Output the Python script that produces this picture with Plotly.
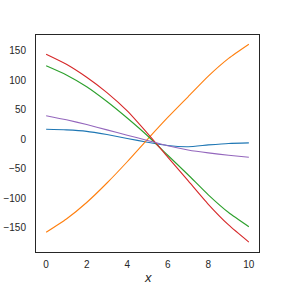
import plotly.graph_objects as go

x = [0, 1, 2, 3, 4, 5, 6, 7, 8, 9, 10]
blue = [17, 16, 13.5, 8, 1.5, -5, -10.5, -12.5, -9.5, -7, -6]
orange = [-157.5, -135, -107, -74, -38, 0, 37, 72, 107, 137, 161]
green = [124.5, 109, 89, 64, 36, 6, -27, -60, -94, -124, -148]
red = [144, 127, 105, 79, 48, 10, -30, -70, -110, -145, -174]
purple = [40, 33, 25, 16, 7, -2, -11, -18, -23, -27, -30.5]

series = [
    ("blue", blue, "#1f77b4"),
    ("orange", orange, "#ff7f0e"),
    ("green", green, "#2ca02c"),
    ("red", red, "#d62728"),
    ("purple", purple, "#9467bd"),
]

x_ticks = [0, 2, 4, 6, 8, 10]
y_ticks = [-150, -100, -50, 0, 50, 100, 150]
x_title = "x"

fig = go.Figure()
for name, ys, col in series:
    fig.add_trace(go.Scatter(x=x, y=ys, mode="lines", name=name,
                             line=dict(color=col, width=1.1, shape="spline", smoothing=0.6),
                             showlegend=False))

font_fam = "Liberation Sans, Arial, sans-serif"
axis_common = dict(showline=True, linecolor="#262626", linewidth=1, mirror=True,
                   showgrid=False, zeroline=False, ticks="", automargin=False,
                   tickfont=dict(family=font_fam, size=10, color="#262626"))

fig.update_xaxes(range=[-0.5, 10.5], tickvals=x_ticks, ticklabelstandoff=3, **axis_common)
fig.update_yaxes(range=[-190.8, 176.6], tickvals=y_ticks, ticklabelstandoff=7, **axis_common)

fig.add_annotation(text="<i>" + x_title + "</i>", xref="paper", yref="paper",
                   x=0.5, y=0, yshift=-25, yanchor="middle", showarrow=False,
                   font=dict(family=font_fam, size=13, color="#262626"))

fig.update_layout(width=288, height=288, margin=dict(l=36, r=29, t=35, b=36),
                  plot_bgcolor="white", paper_bgcolor="white")

fig.write_html("out.html")
